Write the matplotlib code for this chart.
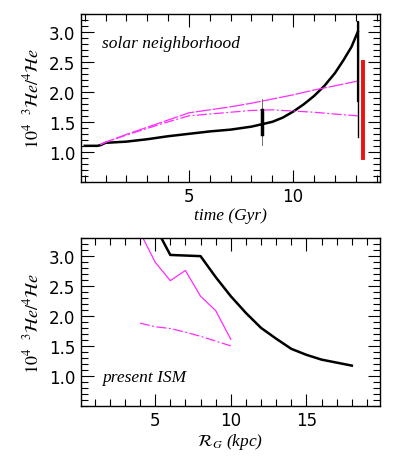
import numpy as np
import matplotlib
matplotlib.use("Agg")
import matplotlib.pyplot as plt
from matplotlib.ticker import MultipleLocator

plt.rcParams['mathtext.fontset'] = 'stix'

# solar neighbourhood: 3He/4He vs time (Gyr)
t_black = [0.0, 0.6, 0.75, 1.0, 2.0, 3.0, 4.0, 5.0, 6.0, 7.0, 8.0, 8.5, 9.0, 9.5, 10.0,
           10.5, 11.0, 11.5, 12.0, 12.4, 12.8, 13.1]
y_black = [1.10, 1.10, 1.11, 1.15, 1.17, 1.21, 1.26, 1.30, 1.34, 1.37, 1.42, 1.46, 1.50,
           1.57, 1.67, 1.79, 1.93, 2.10, 2.31, 2.52, 2.75, 3.00]
t_mag = [0.75, 1.0, 2.0, 3.0, 4.0, 5.0, 6.0, 7.0, 8.0, 9.0, 10.0, 11.0, 12.0, 13.1]
y_mag_solid = [1.12, 1.16, 1.29, 1.41, 1.53, 1.65, 1.70, 1.75, 1.81, 1.88, 1.95, 2.03, 2.10, 2.18]
y_mag_dash = [1.12, 1.16, 1.28, 1.39, 1.50, 1.60, 1.63, 1.66, 1.69, 1.70, 1.68, 1.66, 1.63, 1.60]

# observations in the top panel (x, low, high)
obs_sun = (8.5, 1.11, 1.88)
obs_sun_core = (8.5, 1.30, 1.69)
obs_ism = (13.1, 1.25, 3.16)
obs_ism_core = (13.1, 1.85, 3.16)
obs_red = (13.35, 0.90, 2.50)

# present ISM: 3He/4He vs galactocentric radius (kpc)
r_black = [5.1, 6.0, 8.0, 9.0, 10.0, 11.0, 12.0, 13.0, 14.0, 15.0, 16.0, 17.0, 18.0]
v_black = [3.45, 3.02, 3.00, 2.65, 2.33, 2.05, 1.80, 1.62, 1.45, 1.35, 1.27, 1.22, 1.17]
r_mag = [4.0, 5.0, 6.0, 7.0, 8.0, 9.0, 10.0]
v_mag_solid = [3.40, 2.90, 2.59, 2.76, 2.33, 2.09, 1.61]
v_mag_dash = [1.88, 1.82, 1.79, 1.73, 1.66, 1.58, 1.50]

fig = plt.figure(figsize=(3.99, 4.64), dpi=100)
ax1 = fig.add_axes([0.203, 0.606, 0.749, 0.362])
ax2 = fig.add_axes([0.203, 0.1235, 0.749, 0.361])

mag = '#ff2bff'
ylab = r'$10^4\ \ {}^3\mathcal{H}e/{}^4\mathcal{H}e$'

ax1.plot(t_black, y_black, color='black', lw=1.8)
ax1.plot(t_mag, y_mag_solid, color=mag, lw=0.9, dashes=(12, 1.5))
ax1.plot(t_mag, y_mag_dash, color=mag, lw=0.9, dashes=(8, 2, 1.5, 2))
ax1.plot([obs_sun[0]] * 2, obs_sun[1:], color='#555555', lw=0.6)
ax1.plot([obs_sun_core[0]] * 2, obs_sun_core[1:], color='black', lw=2.5)
ax1.plot([obs_ism[0]] * 2, obs_ism[1:], color='black', lw=1.0)
ax1.plot([obs_ism_core[0]] * 2, obs_ism_core[1:], color='black', lw=1.6)
ax1.plot([obs_red[0]] * 2, obs_red[1:], color='#ee1111', lw=2.8)
ax1.set_xlim(-0.18, 14.16)
ax1.set_ylim(0.5, 3.3)
ax1.set_xticks([5, 10])
ax1.text(0.07, 0.80, 'solar neighborhood', transform=ax1.transAxes,
         family='Liberation Serif', style='italic', fontsize=12.5)
ax1.set_xlabel('time (Gyr)', family='Liberation Serif', style='italic',
               fontsize=12.5, labelpad=1)

ax2.plot(r_black, v_black, color='black', lw=1.8)
ax2.plot(r_mag, v_mag_solid, color=mag, lw=0.9)
ax2.plot(r_mag, v_mag_dash, color=mag, lw=0.9, dashes=(8, 2, 1.5, 2))
ax2.set_xlim(0.1, 19.85)
ax2.set_ylim(0.5, 3.3)
ax2.set_xticks([5, 10, 15])
ax2.text(0.07, 0.15, 'present ISM', transform=ax2.transAxes,
         family='Liberation Serif', style='italic', fontsize=12.5)
ax2.set_xlabel(r'$\mathcal{R}_G$ (kpc)', family='Liberation Serif', style='italic',
               fontsize=12.5, labelpad=1)

for ax in (ax1, ax2):
    ax.xaxis.set_minor_locator(MultipleLocator(1))
    ax.yaxis.set_minor_locator(MultipleLocator(0.1))
    ax.set_yticks([1.0, 1.5, 2.0, 2.5, 3.0])
    ax.tick_params(which='both', direction='in', top=True, right=True)
    ax.tick_params(which='major', length=9, width=0.8, labelsize=12, pad=4)
    ax.tick_params(which='minor', length=5, width=0.8)
    for s in ax.spines.values():
        s.set_linewidth(1.0)
    ax.set_ylabel(ylab, fontsize=13, labelpad=5)

fig.savefig('out.png', dpi=100)
